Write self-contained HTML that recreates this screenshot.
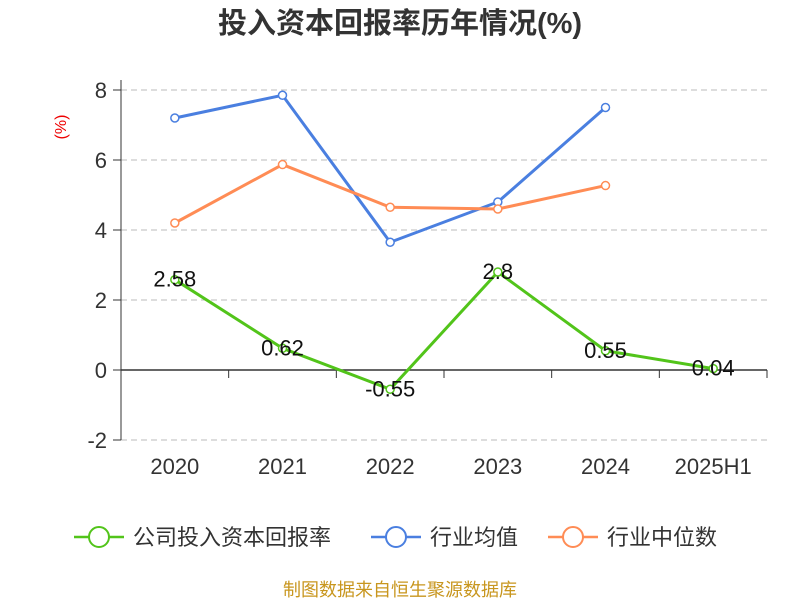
<!DOCTYPE html>
<html><head><meta charset="utf-8"><style>
body{margin:0;background:#fff;font-family:"Liberation Sans","Noto Sans CJK SC",sans-serif}
</style></head><body>
<svg id="c" width="800" height="600" xmlns="http://www.w3.org/2000/svg" font-family="Liberation Sans, Noto Sans CJK SC, sans-serif">
<text x="400" y="33" text-anchor="middle" font-size="29" font-weight="bold" fill="#333">投入资本回报率历年情况(%)</text>
<text x="66" y="127" text-anchor="middle" font-size="16" fill="#e00" transform="rotate(-90 66 127)">(%)</text>
<g id="grid"></g><g id="axes"></g><g id="series"></g>
<g font-size="22" fill="#333">
<g><line x1="74" y1="537" x2="124" y2="537" stroke="#52c41a" stroke-width="2.5"/><circle cx="99" cy="537" r="10" fill="#fff" stroke="#52c41a" stroke-width="2"/><text x="133" y="545">公司投入资本回报率</text></g>
<g><line x1="371" y1="537" x2="421" y2="537" stroke="#4a7fe0" stroke-width="2.5"/><circle cx="396" cy="537" r="10" fill="#fff" stroke="#4a7fe0" stroke-width="2"/><text x="430" y="545">行业均值</text></g>
<g><line x1="548" y1="537" x2="598" y2="537" stroke="#ff8c55" stroke-width="2.5"/><circle cx="573" cy="537" r="10" fill="#fff" stroke="#ff8c55" stroke-width="2"/><text x="607" y="545">行业中位数</text></g>
</g>
<text x="400" y="596" text-anchor="middle" font-size="18" fill="#c8961e">制图数据来自恒生聚源数据库</text>
</svg>
<script>
const categories=["2020","2021","2022","2023","2024","2025H1"];
const company=[2.58,0.62,-0.55,2.8,0.55,0.04];
const industryAvg=[7.2,7.85,3.65,4.8,7.5,null];
const industryMedian=[4.2,5.87,4.65,4.6,5.27,null];
const yTicks=[-2,0,2,4,6,8];
const NS="http://www.w3.org/2000/svg";
const L=121,R=767,band=(R-L)/categories.length;
const xs=i=>L+band*(i+0.5);
const ys=v=>370-v*35;
function mk(p,t,a){const e=document.createElementNS(NS,t);for(const k in a)e.setAttribute(k,a[k]);p.appendChild(e);return e;}
const grid=document.getElementById('grid'),axes=document.getElementById('axes'),ser=document.getElementById('series');
yTicks.forEach(v=>{
 if(v!==0){const g=mk(grid,'line',{x1:L,x2:R,y1:ys(v),y2:ys(v),stroke:'#bbb','stroke-dasharray':'6,4'});
 
 }
 const tk=mk(axes,'line',{x1:L-8,x2:L,y1:ys(v),y2:ys(v),stroke:'#333'});
 
 
 const t=mk(axes,'text',{x:L-14,y:ys(v)+8,'text-anchor':'end','font-size':22,fill:'#333'});t.textContent=v;
 
 
});
const ya=mk(axes,'line',{x1:L,x2:L,y1:ys(8)-10,y2:ys(-2),stroke:'#333'});


const xa=mk(axes,'line',{x1:L,x2:R,y1:ys(0),y2:ys(0),stroke:'#333','stroke-width':1.5});


for(let i=0;i<=categories.length;i++){const tk=mk(axes,'line',{x1:L+band*i,x2:L+band*i,y1:ys(0),y2:ys(0)+8,stroke:'#333'});
 
 }
categories.forEach((c,i)=>{const t=mk(axes,'text',{x:xs(i),y:474,'text-anchor':'middle','font-size':22,fill:'#333'});t.textContent=c;
 
 });
function line(data,color,name,labels){
 const g=mk(ser,'g',{});
 
 
 const pts=data.map((v,i)=>v==null?null:[xs(i),ys(v)]).filter(p=>p);
 mk(g,'polyline',{points:pts.map(p=>p.join(',')).join(' '),fill:'none',stroke:color,'stroke-width':3});
 data.forEach((v,i)=>{if(v==null)return;
  const c=mk(g,'circle',{cx:xs(i),cy:ys(v),r:4,fill:'#fff',stroke:color,'stroke-width':1.5});
  
  
  if(labels){const t=mk(g,'text',{x:xs(i),y:ys(v)+7,'text-anchor':'middle','font-size':22,fill:'#111'});t.textContent=v;
   
   }
 });
}
line(industryAvg,'#4a7fe0','series-industry-avg',false);
line(industryMedian,'#ff8c55','series-industry-median',false);
line(company,'#52c41a','series-company',true);
</script>
</body></html>
